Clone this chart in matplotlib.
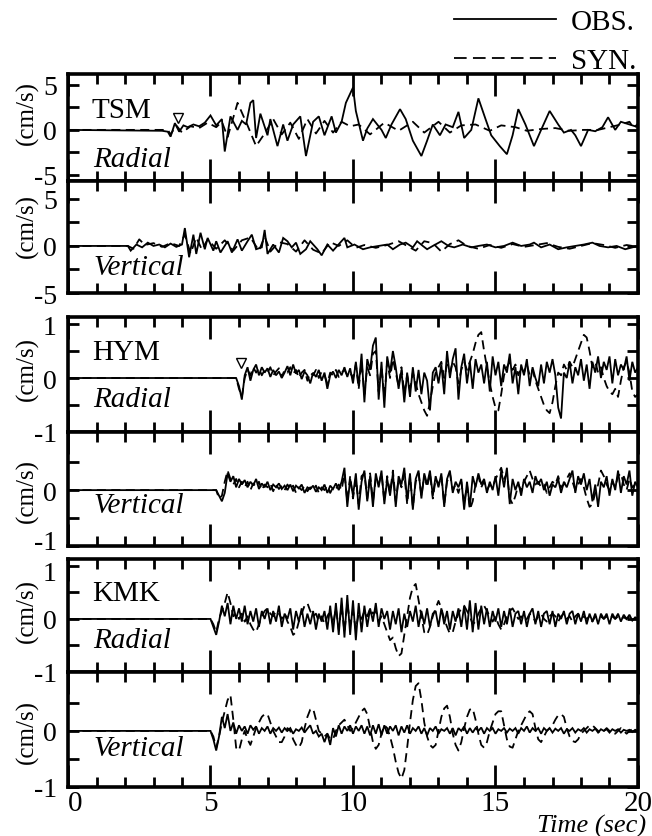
import numpy as np
import matplotlib
matplotlib.use("Agg")
import matplotlib.pyplot as plt
from matplotlib.lines import Line2D
from matplotlib.ticker import FixedLocator, MultipleLocator
from matplotlib.transforms import ScaledTranslation

plt.rcParams['font.family'] = ['Liberation Serif', 'DejaVu Serif']
plt.rcParams['axes.unicode_minus'] = False

# ------------------------------------------------------------------ data
time_ticks = [0, 5, 10, 15, 20]
stations = ["TSM", "HYM", "KMK"]
components = ["Radial", "Vertical"]
unit_label = "(cm/s)"
legend_labels = ["OBS.", "SYN."]
x_label = "Time (sec)"

# TSM radial (turning points, cm/s)
tsm_r_obs_t = [0, 3.3, 3.5, 3.6, 3.75, 3.9, 4.05, 4.2, 4.4, 4.6, 4.8, 5.0, 5.2, 5.4, 5.5, 5.7,
               5.95, 6.1, 6.25, 6.4, 6.5, 6.6, 6.75, 7.0, 7.1, 7.35, 7.55, 7.7, 7.9, 8.15, 8.35,
               8.6, 8.8, 9.0, 9.25, 9.4, 9.6, 9.75, 10.0, 10.1, 10.35, 10.5, 10.7, 10.85, 11.0,
               11.15, 11.35, 11.65, 11.85, 12.1, 12.4, 12.6, 12.8, 13.05, 13.25, 13.5, 13.7,
               13.9, 14.15, 14.4, 14.65, 14.85, 15.15, 15.4, 15.6, 15.8, 16.05, 16.35, 16.6,
               16.9, 17.2, 17.4, 17.65, 17.8, 18.0, 18.25, 18.5, 18.75, 18.95, 19.2, 19.4,
               19.7, 20.0]
tsm_r_obs_v = [0, -0.1, -0.2, -0.75, 0.75, -0.2, 0.5, 0.3, 0.6, 0.4, 0.8, 1.6, 0.5, 1.2, -2.4,
               1.5, 0.0, 1.0, 0.6, 3.0, 3.3, -0.9, 1.8, -0.6, 1.2, -1.8, 0.6, -1.2, 0.6, 1.5,
               -2.9, 0.9, 1.5, -0.6, 1.5, -0.3, 0.9, 3.0, 4.7, 2.1, -1.2, 0.15, 1.2, 0.6, 0.0,
               -0.9, 0.6, 2.3, 1.2, -1.2, -2.9, -1.2, 0.6, -0.6, 0.6, 0.3, 2.0, -0.9, 0.0, 3.5,
               1.2, -0.6, -1.8, -2.7, -0.6, 2.3, 0.6, -1.8, 0.0, 2.1, 0.6, -0.3, 0.0, -0.6,
               -1.8, 0.0, -0.15, 0.3, 1.4, 0.0, 0.9, 0.6, 0.3]
tsm_r_syn_t = [0, 3.5, 3.6, 3.8, 4.0, 4.3, 4.6, 4.9, 5.2, 5.4, 5.6, 5.95, 6.3, 6.6, 6.9, 7.2,
               7.5, 7.8, 8.1, 8.4, 8.7, 9.0, 9.3, 9.6, 9.9, 10.2, 10.6, 11.1, 11.6, 12.1, 12.5,
               13.0, 13.4, 13.8, 14.3, 14.8, 15.2, 15.7, 16.1, 16.6, 17.1, 17.6, 18.1, 18.6,
               19.0, 19.4, 19.7, 19.85, 20.0]
tsm_r_syn_v = [0, 0, -0.5, 0.5, -0.3, 0.4, 0.2, 0.8, 0.3, 0.9, -0.8, 3.0, 0.5, -1.8, -0.4,
               1.2, -0.5, 0.8, -1.0, 1.2, -0.4, 1.0, -0.3, 0.9, 0.4, 0.6, -0.5, 0.8, -0.1, 0.9,
               -0.3, 0.9, -0.3, 0.5, 0.6, -0.1, 0.5, 0.3, -0.1, 0.1, 0.2, -0.1, 0.0, 0.0, 0.3,
               0.6, 0.9, 0.2, 0.7]

# TSM vertical (turning points, cm/s)
tsm_v_obs_t = [0, 2.1, 2.2, 2.4, 2.6, 2.8, 3.0, 3.2, 3.4, 3.6, 3.8, 4.0, 4.1, 4.25, 4.4, 4.5,
               4.65, 4.8, 4.9, 5.1, 5.2, 5.35, 5.6, 5.75, 5.95, 6.1, 6.3, 6.45, 6.6, 6.8, 6.9,
               7.0, 7.2, 7.4, 7.55, 7.7, 7.85, 8.0, 8.15, 8.35, 8.5, 8.75, 8.9, 9.1, 9.3, 9.55,
               9.7, 9.8, 10.05, 10.35, 10.6, 10.9, 11.2, 11.4, 11.65, 11.85, 12.1, 12.25, 12.45,
               12.6, 12.8, 13.1, 13.35, 13.55, 13.85, 14.15, 14.4, 14.7, 15.0, 15.3, 15.6, 15.9,
               16.2, 16.35, 16.6, 16.9, 17.2, 17.5, 17.8, 18.1, 18.4, 18.65, 18.95, 19.25,
               19.55, 20.0]
tsm_v_obs_v = [0, 0, -0.5, 0.15, -0.15, 0.35, 0.0, 0.15, -0.15, 0.25, -0.1, 0.15, 1.9, -1.2,
               1.2, -0.85, 1.4, -0.35, 0.85, -0.5, 0.5, -0.7, 0.5, -0.7, 0.7, -0.5, 0.5, 1.2,
               -0.35, -0.15, 1.7, -0.85, 0.15, -0.7, 0.85, 0.5, -0.15, 0.35, -0.85, -0.35, 0.5,
               -0.35, -1.0, 0.15, -0.5, 0.35, 0.85, -0.15, 0.15, -0.35, -0.15, 0.0, 0.15, -0.35,
               0.15, 0.35, -0.15, 0.5, 0.0, -0.35, 0.0, 0.5, 0.0, -0.15, 0.15, -0.15, 0.0, 0.15,
               -0.15, 0.0, 0.35, 0.0, 0.15, 0.35, -0.15, 0.15, -0.35, -0.15, 0.0, 0.15, 0.35,
               0.0, -0.15, 0.0, -0.35, 0.0]
tsm_v_syn_t = [0, 2.1, 2.3, 2.5, 2.7, 3.0, 3.3, 3.6, 3.9, 4.1, 4.3, 4.5, 4.7, 4.9, 5.2, 5.5,
               5.8, 6.1, 6.4, 6.7, 6.9, 7.1, 7.4, 7.7, 8.0, 8.3, 8.6, 8.9, 9.2, 9.5, 9.8, 10.1,
               10.4, 10.8, 11.2, 11.6, 11.9, 12.2, 12.5, 12.8, 13.1, 13.4, 13.7, 14.0, 14.4,
               14.8, 15.2, 15.6, 16.0, 16.4, 16.8, 17.2, 17.6, 18.0, 18.4, 18.8, 19.2, 19.6, 20.0]
tsm_v_syn_v = [0, 0, -0.3, 0.7, 0.1, 0.3, -0.1, 0.3, 0.0, 1.2, -0.8, 0.9, -0.4, 0.7, -0.3,
               0.6, -0.5, 0.6, 0.9, -0.5, 1.0, -0.6, 0.4, 0.2, -0.6, 0.6, -0.4, -0.8, 0.4, 0.0,
               0.6, -0.2, 0.1, -0.2, 0.1, 0.5, 0.0, -0.5, 0.5, 0.3, -0.6, 0.2, 0.6, 0.0, -0.3,
               0.1, -0.2, 0.2, -0.1, 0.1, 0.3, -0.1, -0.3, 0.0, 0.3, 0.1, -0.2, 0.1, -0.1]

# HYM radial (0.1 s samples from onset to 20 s, cm/s)
hym_r_onset = 5.9
hym_r_obs = [0.00, -0.15, -0.40, 0.05, 0.20, -0.05, 0.15, 0.25, 0.05, 0.20, 0.10, 0.18, 0.02,
             0.15, 0.05, 0.12, 0.00, 0.10, 0.22, 0.05, 0.25, 0.08, 0.15, -0.02, 0.12, 0.05,
             -0.10, 0.10, 0.02, 0.15, -0.05, 0.10, -0.20, 0.05, 0.12, 0.00, 0.15, 0.05, 0.20,
             0.02, 0.18, -0.10, 0.30, -0.15, 0.45, -0.45, 0.35, 0.15, 0.60, 0.75, -0.40, 0.30,
             -0.55, 0.40, 0.10, 0.50, 0.20, -0.20, 0.15, -0.45, 0.10, -0.35, 0.20, -0.25, 0.15,
             -0.30, 0.10, -0.05, -0.60, 0.10, 0.20, -0.10, 0.25, -0.30, 0.50, 0.00, 0.35, 0.55,
             -0.40, 0.20, 0.45, -0.10, 0.30, -0.20, 0.35, 0.10, 0.25, -0.10, 0.30, -0.25, 0.40,
             0.05, 0.30, -0.15, 0.25, 0.10, 0.45, -0.10, 0.20, -0.30, 0.25, 0.05, 0.35, -0.15,
             0.20, 0.00, -0.15, 0.25, -0.10, 0.30, 0.10, 0.35, 0.05, -0.55, -0.75, 0.10, 0.00,
             0.30, -0.10, 0.20, 0.05, 0.35, -0.05, 0.25, -0.20, 0.30, 0.10, 0.40, 0.00, 0.30,
             0.15, 0.40, -0.10, 0.35, 0.05, 0.25, 0.15, 0.40, -0.05, 0.30, 0.10, 0.20]
hym_r_syn = [0.00, -0.20, -0.35, 0.00, 0.15, 0.05, 0.20, 0.10, 0.18, 0.05, 0.15, 0.10, 0.20,
             0.05, 0.12, 0.18, 0.02, 0.15, 0.10, 0.20, 0.08, 0.15, 0.00, 0.10, 0.15, -0.05,
             0.10, 0.05, 0.15, 0.00, 0.12, 0.05, -0.10, 0.10, 0.05, 0.15, 0.02, 0.10, 0.15,
             0.05, 0.10, 0.00, 0.25, -0.20, 0.30, -0.30, 0.20, 0.05, 0.45, 0.50, -0.25, 0.20,
             -0.35, 0.30, 0.00, 0.35, 0.10, -0.15, 0.20, -0.30, 0.05, -0.20, 0.10, -0.10, -0.30,
             -0.45, -0.60, -0.70, -0.45, -0.15, 0.10, 0.20, 0.30, 0.00, 0.25, 0.10, 0.30, 0.20,
             -0.10, 0.15, 0.30, 0.15, 0.30, 0.45, 0.65, 0.80, 0.85, 0.50, 0.20, -0.10, -0.35,
             -0.55, -0.60, -0.30, 0.05, 0.20, 0.30, 0.15, 0.25, 0.05, 0.20, 0.10, 0.25, 0.05,
             0.15, -0.05, -0.20, -0.35, -0.50, -0.60, -0.65, -0.45, -0.15, 0.10, 0.05, 0.25,
             0.15, 0.30, 0.20, 0.35, 0.50, 0.65, 0.80, 0.75, 0.50, 0.20, 0.30, 0.10, 0.20,
             0.00, -0.15, -0.25, -0.30, -0.20, -0.35, -0.05, 0.20, 0.30, 0.10, -0.25, -0.35,
             -0.30]

# HYM vertical
hym_v_onset = 5.2
hym_v_obs = [0.00, -0.10, -0.20, -0.05, 0.30, 0.15, 0.25, 0.05, 0.20, 0.10, 0.18, 0.05, 0.15,
             0.08, 0.20, 0.02, 0.12, 0.05, 0.15, 0.00, 0.10, 0.05, 0.12, 0.02, 0.08, 0.00,
             0.10, -0.02, 0.08, 0.03, 0.10, -0.05, 0.05, 0.02, 0.08, -0.03, 0.05, 0.00, 0.10,
             -0.05, 0.08, 0.02, 0.12, 0.00, 0.15, 0.40, -0.30, 0.20, -0.10, 0.30, -0.35, 0.15,
             0.35, -0.20, 0.25, -0.30, 0.30, 0.05, 0.35, -0.25, 0.20, -0.10, 0.30, -0.30, 0.25,
             0.10, 0.40, -0.20, 0.30, -0.35, 0.20, 0.35, -0.15, 0.30, 0.10, 0.35, -0.10, 0.25,
             0.05, 0.30, -0.30, 0.20, 0.35, -0.05, 0.15, 0.05, 0.20, -0.35, 0.15, -0.30, 0.25,
             0.05, 0.30, 0.10, 0.20, -0.05, 0.15, 0.00, 0.25, -0.10, 0.35, 0.05, 0.40, -0.25,
             0.20, 0.00, 0.15, -0.10, 0.20, 0.05, 0.15, -0.05, 0.25, 0.10, 0.20, 0.00, 0.15,
             -0.10, 0.10, 0.05, 0.20, -0.05, 0.15, 0.05, 0.20, 0.35, -0.05, 0.25, 0.10, 0.30,
             0.00, 0.20, -0.20, 0.10, -0.30, 0.15, 0.05, 0.25, -0.10, 0.20, 0.00, 0.35, -0.05,
             0.25, 0.10, 0.35, -0.10, 0.15, 0.05]
hym_v_syn = [0.00, -0.15, -0.10, 0.15, 0.35, 0.20, 0.10, 0.20, 0.05, 0.15, 0.05, 0.15, 0.00,
             0.12, 0.05, 0.15, 0.00, 0.10, 0.05, 0.12, -0.02, 0.10, 0.02, 0.08, 0.00, 0.10,
             0.02, 0.08, -0.05, 0.05, 0.00, 0.08, -0.02, 0.05, 0.00, 0.08, -0.05, 0.05, 0.00,
             0.08, -0.05, 0.05, 0.02, 0.10, 0.00, 0.30, -0.20, 0.25, -0.15, 0.20, -0.25, 0.25,
             0.30, -0.15, 0.30, -0.20, 0.20, 0.10, 0.30, -0.20, 0.25, -0.05, 0.35, -0.20, 0.20,
             0.05, 0.30, -0.25, 0.25, -0.30, 0.15, 0.30, -0.10, 0.25, 0.05, 0.30, -0.15, 0.20,
             0.10, 0.25, -0.25, 0.15, 0.30, 0.00, 0.10, -0.05, 0.15, -0.25, 0.10, -0.35, -0.20,
             0.10, 0.25, 0.05, 0.15, 0.00, 0.10, 0.05, 0.20, 0.30, 0.40, 0.20, 0.30, -0.15,
             -0.25, -0.10, 0.10, 0.00, 0.15, 0.25, 0.35, 0.20, 0.10, 0.15, 0.05, 0.10, -0.05,
             0.05, 0.15, 0.10, 0.25, 0.05, 0.10, 0.20, 0.30, 0.15, 0.00, 0.10, 0.20, 0.05,
             -0.15, -0.30, -0.25, -0.05, 0.10, 0.35, 0.25, 0.10, 0.00, 0.15, 0.05, 0.25, 0.30,
             0.10, 0.00, 0.20, 0.05, 0.10, 0.05]

# KMK radial
kmk_r_onset = 5.0
kmk_r_obs = [0.00, -0.15, -0.30, -0.05, 0.25, 0.05, 0.30, -0.10, 0.25, 0.00, 0.20, -0.05, 0.25,
             -0.10, 0.15, -0.05, 0.20, -0.15, 0.15, 0.00, 0.20, -0.10, 0.15, -0.05, 0.25, -0.15,
             0.10, 0.00, 0.20, -0.20, 0.15, -0.05, 0.20, -0.15, 0.10, -0.10, 0.15, -0.20, 0.10,
             -0.05, 0.15, -0.20, 0.25, -0.25, 0.30, -0.30, 0.40, -0.35, 0.45, -0.30, 0.35,
             -0.40, 0.30, -0.25, 0.25, -0.15, 0.20, -0.05, 0.30, -0.15, 0.20, 0.00, 0.15, -0.20,
             0.15, -0.10, 0.20, -0.25, 0.10, -0.15, 0.15, -0.05, 0.25, -0.15, 0.15, -0.10, 0.20,
             -0.15, 0.10, 0.15, -0.15, 0.20, -0.10, 0.15, -0.20, 0.15, -0.05, 0.20, -0.15, 0.25,
             -0.20, 0.35, -0.25, 0.30, -0.20, 0.25, -0.10, 0.20, -0.15, 0.15, -0.05, 0.20, -0.15,
             0.15, -0.10, 0.20, -0.15, 0.10, 0.15, -0.10, 0.15, -0.15, 0.10, 0.20, -0.10, 0.15,
             -0.15, 0.10, 0.15, -0.10, 0.15, -0.15, 0.10, 0.00, 0.15, -0.10, 0.10, 0.15, -0.10,
             0.10, -0.05, 0.15, -0.10, 0.10, -0.05, 0.10, -0.10, 0.10, 0.00, 0.10, -0.10, 0.10,
             0.00, 0.10, -0.05, 0.08, 0.00, 0.08, -0.03, 0.03, 0.00]
kmk_r_syn = [0.00, -0.10, -0.25, 0.00, 0.15, 0.30, 0.50, 0.30, 0.05, 0.10, 0.00, 0.10, -0.05,
             0.05, -0.10, -0.20, -0.25, -0.10, 0.05, 0.15, 0.20, 0.10, 0.05, 0.15, 0.10, 0.00,
             0.10, -0.05, -0.15, -0.30, -0.25, -0.05, 0.10, 0.25, 0.30, 0.15, 0.05, 0.10, -0.05,
             0.05, -0.10, 0.05, 0.15, -0.10, 0.20, -0.20, 0.25, -0.25, 0.30, -0.10, 0.15, -0.20,
             0.10, 0.00, 0.15, 0.05, 0.20, 0.10, 0.15, -0.05, 0.05, -0.10, -0.25, -0.40, -0.35,
             -0.55, -0.70, -0.65, -0.30, 0.05, 0.40, 0.60, 0.66, 0.35, 0.05, -0.25, -0.30,
             -0.15, 0.05, 0.20, 0.34, 0.20, 0.00, -0.15, -0.28, -0.25, -0.05, 0.10, 0.20, 0.25,
             0.15, 0.05, -0.10, -0.05, 0.10, 0.20, 0.25, 0.15, 0.05, -0.05, 0.05, -0.10, -0.20,
             -0.10, 0.05, 0.15, 0.20, 0.10, 0.00, 0.05, -0.05, 0.00, 0.10, 0.05, -0.05, 0.05,
             0.10, 0.00, -0.05, 0.05, 0.10, 0.05, -0.05, 0.05, 0.10, 0.00, 0.05, -0.05, 0.05,
             0.10, 0.00, 0.05, 0.00, 0.05, -0.05, 0.05, 0.00, 0.05, 0.00, 0.05, 0.00, 0.05,
             0.00, 0.05, 0.00, 0.03, 0.00, 0.03, 0.00, 0.02, 0.00]

# KMK vertical
kmk_v_onset = 5.0
kmk_v_obs = [0.00, -0.15, -0.35, -0.10, 0.25, 0.05, 0.30, 0.00, 0.15, -0.05, 0.10, 0.00, 0.08,
             -0.05, 0.10, 0.02, 0.08, -0.05, 0.05, 0.00, 0.08, -0.05, 0.05, 0.00, 0.06, -0.03,
             0.05, 0.00, 0.05, -0.05, 0.03, 0.00, 0.06, -0.03, 0.04, 0.10, -0.05, 0.00, -0.10,
             -0.05, -0.20, -0.05, -0.25, 0.05, -0.10, 0.10, -0.05, 0.08, 0.00, 0.10, -0.05,
             0.08, 0.00, 0.10, -0.05, 0.08, -0.08, 0.10, -0.05, 0.12, -0.08, 0.10, -0.05, 0.08,
             0.00, 0.10, -0.08, 0.08, -0.03, 0.10, -0.05, 0.05, 0.00, 0.08, -0.05, 0.05, -0.08,
             0.05, 0.00, 0.08, -0.05, 0.03, 0.00, 0.05, -0.05, 0.05, -0.08, 0.05, 0.00, 0.08,
             -0.05, 0.05, -0.03, 0.05, 0.00, 0.06, -0.05, 0.05, 0.00, 0.05, -0.05, 0.03, 0.00,
             0.05, -0.03, 0.04, 0.00, 0.05, -0.05, 0.05, 0.00, 0.08, -0.03, 0.05, 0.00, 0.05,
             -0.05, 0.05, 0.00, 0.05, -0.03, 0.04, 0.00, 0.05, -0.05, 0.03, 0.00, 0.05, -0.03,
             0.03, 0.00, 0.05, -0.03, 0.03, 0.00, 0.04, -0.03, 0.03, 0.00, 0.03, -0.03, 0.03,
             0.00, 0.03, -0.03, 0.02, 0.00, 0.02, -0.02, 0.02, 0.00]
kmk_v_syn = [0.00, -0.10, -0.30, -0.10, 0.15, 0.35, 0.55, 0.64, 0.20, -0.30, -0.35, -0.15,
             0.00, -0.15, -0.25, -0.10, 0.05, 0.15, 0.25, 0.30, 0.30, 0.15, 0.00, -0.10, -0.20,
             -0.20, -0.10, 0.05, 0.00, -0.15, -0.25, -0.30, -0.20, 0.05, 0.25, 0.38, 0.40, 0.20,
             0.00, -0.05, -0.10, -0.05, -0.15, -0.15, 0.00, 0.10, 0.15, 0.20, 0.10, 0.00, 0.05,
             0.15, 0.25, 0.35, 0.40, 0.30, 0.05, -0.20, -0.32, -0.25, -0.05, 0.10, 0.05, -0.10,
             -0.30, -0.55, -0.75, -0.85, -0.70, -0.30, 0.15, 0.55, 0.80, 0.85, 0.55, 0.15,
             -0.10, -0.25, -0.30, -0.25, 0.00, 0.25, 0.40, 0.45, 0.25, -0.05, -0.25, -0.35,
             -0.20, 0.05, 0.25, 0.38, 0.40, 0.20, -0.05, -0.25, -0.30, -0.20, 0.00, 0.15, 0.30,
             0.35, 0.35, 0.10, -0.15, -0.28, -0.30, -0.15, 0.00, 0.10, 0.20, 0.30, 0.35, 0.30,
             0.05, -0.15, -0.20, -0.10, 0.00, 0.05, 0.10, 0.20, 0.28, 0.30, 0.25, 0.05, -0.10,
             -0.18, -0.20, -0.15, -0.05, 0.00, 0.05, 0.10, 0.10, 0.05, 0.00, -0.05, 0.00, 0.05,
             0.00, -0.05, -0.05, 0.00, 0.05, 0.00, -0.05, 0.00, 0.03, 0.00, 0.00]

# arrival picks (open triangles)
tsm_pick = (3.85, 1.3)
hym_pick = (6.07, 0.28)

# ------------------------------------------------------------------ helpers
def sampled(onset, vals):
    """flat zero before onset, then samples evenly spaced to 20 s"""
    t = np.concatenate([[0.0], np.linspace(onset, 20.0, len(vals))])
    v = np.concatenate([[0.0], np.asarray(vals, dtype=float)])
    return t, v

W, H = 652, 837
fig = plt.figure(figsize=(W / 100, H / 100), dpi=100)

# (top px, bottom px, ylim, labelled y ticks, unit)
layout = [
    (75, 182, (-5.67, 6.2), [-5, 0, 5], 5),
    (182, 294, (-5.0, 6.9), [-5, 0, 5], 5),
    (318, 433, (-1.0, 1.13), [-1, 0, 1], 1),
    (433, 547, (-1.0, 1.04), [-1, 0], 1),
    (560, 673, (-1.0, 1.13), [-1, 0, 1], 1),
    (673, 788, (-1.0, 1.05), [-1, 0], 1),
]

traces = [
    ((tsm_r_obs_t, tsm_r_obs_v), (tsm_r_syn_t, tsm_r_syn_v)),
    ((tsm_v_obs_t, tsm_v_obs_v), (tsm_v_syn_t, tsm_v_syn_v)),
    (sampled(hym_r_onset, hym_r_obs), sampled(hym_r_onset, hym_r_syn)),
    (sampled(hym_v_onset, hym_v_obs), sampled(hym_v_onset, hym_v_syn)),
    (sampled(kmk_r_onset, kmk_r_obs), sampled(kmk_r_onset, kmk_r_syn)),
    (sampled(kmk_v_onset, kmk_v_obs), sampled(kmk_v_onset, kmk_v_syn)),
]

name_y = [0.665, None, 0.70, None, 0.70, None]
comp_y = [0.205, 0.23, 0.29, 0.36, 0.28, 0.34]
unit_yc = [113, 226, 369, 491, 611, 732]

L, R = 68, 638
axes = []
for i, ((top, bot, ylim, yt, M), (obs, syn)) in enumerate(zip(layout, traces)):
    ax = fig.add_axes([L / W, 1 - bot / H, (R - L) / W, (bot - top) / H])
    axes.append(ax)
    ax.plot(obs[0], obs[1], color='black', lw=1.3, solid_joinstyle='miter')
    ax.plot(syn[0], syn[1], color='black', lw=1.3, dashes=(5, 3))
    ax.set_xlim(0, 20)
    ax.set_ylim(*ylim)
    for s in ax.spines.values():
        s.set_linewidth(2.6)
    ax.xaxis.set_minor_locator(MultipleLocator(1))
    ax.set_yticks(yt, [str(v) for v in yt])
    ax.yaxis.set_minor_locator(FixedLocator([-M / 2, M / 2]))
    ax.tick_params(axis='x', which='major', direction='in', length=16, width=2.0,
                   top=True, bottom=True, labelsize=21, pad=2)
    ax.tick_params(axis='x', which='minor', direction='in', length=7, width=2.0,
                   top=True, bottom=True)
    ax.tick_params(axis='y', which='both', direction='in', length=8, width=2.0,
                   left=True, right=True, labelsize=20, pad=8)
    if i != len(layout) - 1:
        ax.set_xticks(time_ticks)
        ax.tick_params(axis='x', labelbottom=False)
    else:
        ax.set_xticks(time_ticks, [str(v) for v in time_ticks])
        ax.get_xticklabels()[0].set_horizontalalignment('left')
    st = stations[i // 2]
    if i % 2 == 0:
        ax.text(0.042, name_y[i], st, transform=ax.transAxes, fontsize=21,
                ha='left', va='center')
    ax.text(0.044, comp_y[i], components[i % 2], transform=ax.transAxes, fontsize=21,
            style='italic', ha='left', va='center')
    fig.text(27 / W, 1 - unit_yc[i] / H, unit_label, rotation=90, fontsize=18,
             ha='center', va='center')

# nudge the crowded labels between the HYM and KMK pairs apart a little
lab = axes[3].get_yticklabels()[0]
lab.set_transform(lab.get_transform() + ScaledTranslation(0, 7 / 100, fig.dpi_scale_trans))
lab = axes[4].get_yticklabels()[-1]
lab.set_transform(lab.get_transform() + ScaledTranslation(0, -5 / 100, fig.dpi_scale_trans))

axes[0].plot([tsm_pick[0]], [tsm_pick[1]], marker='v', ms=7, mfc='white', mec='black', mew=1.0)
axes[2].plot([hym_pick[0]], [hym_pick[1]], marker='v', ms=7, mfc='white', mec='black', mew=1.0)

fig.text(646 / W, 1 - 826 / H, x_label, fontsize=19, style='italic', ha='right', va='center')

handles = [Line2D([], [], color='black', lw=1.3),
           Line2D([], [], color='black', lw=1.3, dashes=(7, 3.5))]
fig.legend(handles, legend_labels, loc='upper right', bbox_to_anchor=(636 / W, 1 - 10 / H),
           frameon=False, fontsize=21, handlelength=3.5, handletextpad=0.5,
           labelspacing=0.42, borderpad=0.0, borderaxespad=0.0)

fig.savefig("out.png", dpi=100)
